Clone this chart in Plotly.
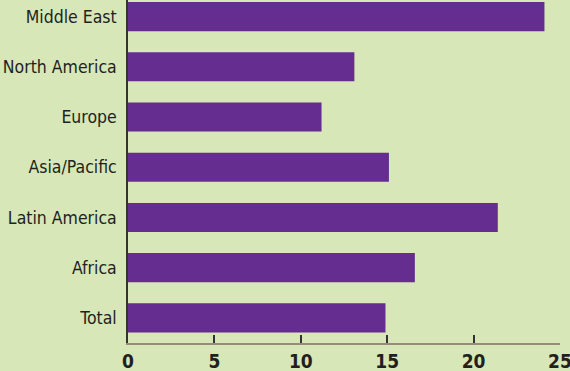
import plotly.graph_objects as go

categories = ["Total", "Africa", "Latin America", "Asia/Pacific", "Europe", "North America", "Middle East"]
values = [14.9, 16.6, 21.4, 15.1, 11.2, 13.1, 24.1]
x_ticks = [0, 5, 10, 15, 20, 25]

FONT = "DejaVu Sans Condensed, sans-serif"

fig = go.Figure(go.Bar(
    x=values, y=categories, orientation="h",
    marker=dict(color="#662d91", line=dict(width=0)),
    width=0.58,
))

fig.update_layout(
    width=570, height=371,
    margin=dict(l=128, r=10, t=0, b=28),
    paper_bgcolor="#d7e7b7", plot_bgcolor="#d7e7b7",
    showlegend=False,
    font=dict(family=FONT, color="#231f20"),
)
fig.update_xaxes(
    range=[0, 25], tickvals=x_ticks, ticktext=[f"<b>{t}</b>" for t in x_ticks],
    showgrid=False, zeroline=False, automargin=False,
    ticklabeloverflow="allow",
    showline=True, linecolor="#9a8878", linewidth=2,
    ticks="inside", ticklen=8, tickcolor="#333333", tickwidth=1.5,
    tickfont=dict(size=19, family=FONT),
)
fig.update_yaxes(
    range=[-0.5, 6.33], showgrid=False, zeroline=False, automargin=False,
    showline=True, linecolor="#333333", linewidth=1.5,
    ticks="", ticklabelstandoff=6,
    tickfont=dict(size=17.5, family=FONT),
)

fig.write_html("out.html")
